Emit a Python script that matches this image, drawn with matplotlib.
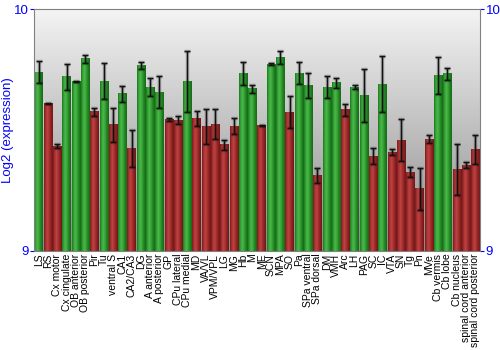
import numpy as np
import matplotlib
matplotlib.use("Agg")
import matplotlib.pyplot as plt
from matplotlib.colors import LinearSegmentedColormap

plt.rcParams['font.family'] = ['Liberation Sans', 'DejaVu Sans']

# Brain regions and mean log2 expression with error bar half-widths
regions = ["LS", "RS", "Cx motor", "Cx cingulate", "OB anterior", "OB posterior",
           "Pir", "Tu", "ventral S", "CA1", "CA2/CA3", "DG", "A anterior",
           "A posterior", "GP", "CPu lateral", "CPu medial", "MD", "VA/VL",
           "VPM/VPL", "LG", "MG", "Hb", "M", "ME", "SCN", "MPA", "SO", "Pa",
           "SPa ventral", "SPa dorsal", "DM", "VMH", "Arc", "LH", "PAG", "SC",
           "IC", "VTA", "SN", "Tg", "Pn", "MVe", "Cb vermis", "Cb lobe",
           "Cb nucleus", "spinal cord anterior", "spinal cord posterior"]

expression = [9.740, 9.610, 9.433, 9.720, 9.700, 9.794, 9.576, 9.702, 9.522,
              9.650, 9.424, 9.767, 9.678, 9.656, 9.545, 9.541, 9.699, 9.549,
              9.515, 9.525, 9.439, 9.516, 9.735, 9.670, 9.519, 9.772, 9.800,
              9.573, 9.735, 9.685, 9.313, 9.678, 9.695, 9.584, 9.678, 9.642,
              9.391, 9.689, 9.409, 9.457, 9.326, 9.257, 9.463, 9.726, 9.732,
              9.337, 9.355, 9.420]

errors = [0.046, 0.003, 0.008, 0.053, 0.002, 0.015, 0.016, 0.075, 0.070,
          0.034, 0.075, 0.016, 0.039, 0.066, 0.006, 0.018, 0.126, 0.031,
          0.072, 0.064, 0.020, 0.033, 0.048, 0.016, 0.001, 0.004, 0.028,
          0.066, 0.045, 0.052, 0.031, 0.047, 0.021, 0.024, 0.007, 0.110,
          0.033, 0.116, 0.012, 0.087, 0.021, 0.087, 0.016, 0.077, 0.025,
          0.106, 0.011, 0.060]

# "high" regions get green bars, the rest red
high = ["LS", "Cx cingulate", "OB anterior", "OB posterior", "Tu", "CA1", "DG",
        "A anterior", "A posterior", "CPu medial", "Hb", "M", "SCN", "MPA",
        "Pa", "SPa ventral", "DM", "VMH", "LH", "PAG", "IC", "Cb vermis",
        "Cb lobe"]

y_min, y_max = 9, 10

green_cmap = LinearSegmentedColormap.from_list(
    "g", ["#1c7a1c", "#3aa63a", "#4cb84c", "#34a034", "#1f811f", "#176b17"])
red_cmap = LinearSegmentedColormap.from_list(
    "r", ["#7e1c1c", "#a83232", "#bf4444", "#a83030", "#8a2222", "#701818"])
grad = np.linspace(0, 1, 32).reshape(1, -1)

fig = plt.figure(figsize=(5, 3.5), dpi=100)
ax = fig.add_axes([0.068, 0.283, 0.892, 0.691])

# background fading from light at the top to grey at the bottom
bg = np.linspace(0, 1, 256).reshape(-1, 1)
bg_cmap = LinearSegmentedColormap.from_list("bg", ["#f4f4f4", "#8a8a8a"])
ax.imshow(bg, cmap=bg_cmap, aspect="auto", extent=[-0.5, len(regions) - 0.5, y_min, y_max],
          zorder=0)

width = 0.9
x = np.arange(len(regions))
for i, (name, val) in enumerate(zip(regions, expression)):
    cmap = green_cmap if name in high else red_cmap
    ax.imshow(grad, cmap=cmap, aspect="auto",
              extent=[x[i] - width / 2, x[i] + width / 2, y_min, val], zorder=2)

# soft shadow under the error bars, then the bars themselves
ax.errorbar(x, expression, yerr=errors, fmt="none", ecolor="#000000", alpha=0.25,
            elinewidth=2.5, capsize=2.5, capthick=2.5, zorder=3)
ax.errorbar(x, expression, yerr=errors, fmt="none", ecolor="#111111",
            elinewidth=1, capsize=2, capthick=1, zorder=4)

ax.set_xlim(-0.5, len(regions) - 0.5)
ax.set_ylim(y_min, y_max)
ax.set_xticks(x)
ax.set_xticklabels(regions, rotation=90, fontsize=7.5)
ax.tick_params(axis="x", length=0, pad=2)
ax.set_yticks([y_min, y_max])
ax.tick_params(axis="y", colors="#0000ff", labelsize=9.5, length=3, pad=1,
               left=True, right=True, labelleft=True, labelright=True)
for s in ax.spines.values():
    s.set_color("#808080")
ax.set_ylabel("Log2 (expression)", color="#0000ff", fontsize=9.5, labelpad=0)

fig.savefig("out.png", dpi=100)
